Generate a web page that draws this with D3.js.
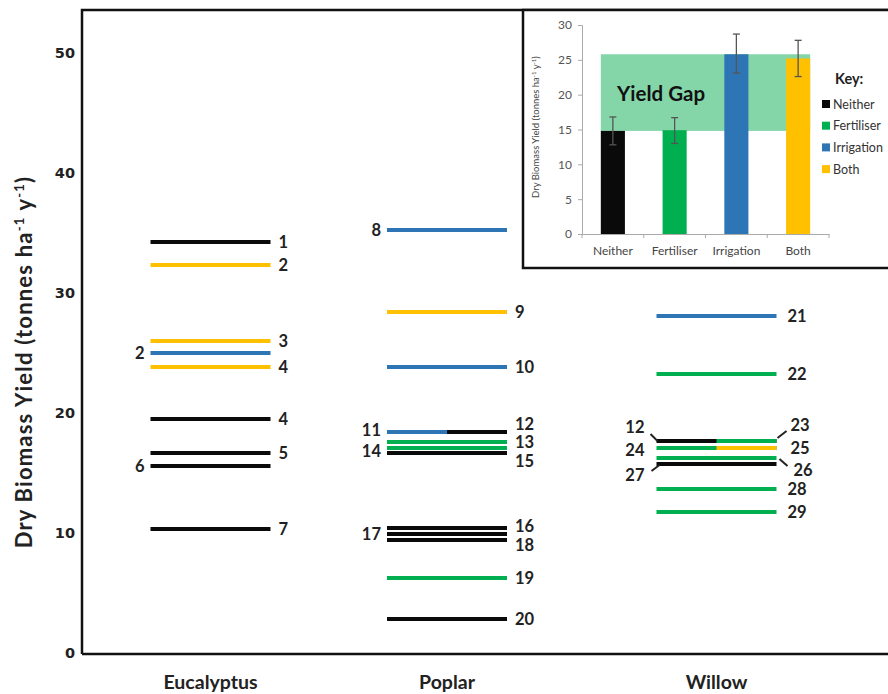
<!DOCTYPE html>
<html>
<head>
<meta charset="utf-8">
<script src="https://cdn.jsdelivr.net/npm/d3@7"></script>
<style>
  body { margin: 0; background: #fff; }
  svg { display: block; }
  text { font-family: Lato, 'Open Sans', sans-serif; }
</style>
</head>
<body>
<div id="chart"></div>
<script>
// ==============================
// data
// ==============================
const species = ['Eucalyptus', 'Poplar', 'Willow'];
const treatments = ['Neither', 'Fertiliser', 'Irrigation', 'Both'];

// each reported yield: value, treatment on left / right half, reference number left / right
const eucalyptusYield = [34.25, 32.33, 26.0, 25.0, 23.83, 19.5, 16.67, 15.58, 10.33];
const eucalyptusLeft = ['Neither', 'Both', 'Both', 'Irrigation', 'Both', 'Neither', 'Neither', 'Neither', 'Neither'];
const eucalyptusRight = eucalyptusLeft;
const eucalyptusRefL = ['', '', '', '2', '', '', '', '6', ''];
const eucalyptusRefR = ['1', '2', '3', '', '4', '4', '5', '', '7'];

const poplarYield = [35.25, 28.42, 23.83, 18.42, 17.58, 17.08, 16.67, 10.42, 9.92, 9.42, 6.25, 2.83];
const poplarLeft = ['Irrigation', 'Both', 'Irrigation', 'Irrigation', 'Fertiliser', 'Fertiliser', 'Neither', 'Neither', 'Neither', 'Neither', 'Fertiliser', 'Neither'];
const poplarRight = ['Irrigation', 'Both', 'Irrigation', 'Neither', 'Fertiliser', 'Fertiliser', 'Neither', 'Neither', 'Neither', 'Neither', 'Fertiliser', 'Neither'];
const poplarRefL = ['8', '', '', '11', '', '14', '', '', '17', '', '', ''];
const poplarRefR = ['', '9', '10', '12', '13', '', '15', '16', '', '18', '19', '20'];

const willowYield = [28.08, 23.25, 17.67, 17.08, 16.25, 15.75, 13.67, 11.75];
const willowLeft = ['Irrigation', 'Fertiliser', 'Neither', 'Fertiliser', 'Fertiliser', 'Neither', 'Fertiliser', 'Fertiliser'];
const willowRight = ['Irrigation', 'Fertiliser', 'Fertiliser', 'Both', 'Fertiliser', 'Neither', 'Fertiliser', 'Fertiliser'];
const willowRefL = ['', '', '12', '24', '', '27', '', ''];
const willowRefR = ['21', '22', '23', '25', '26', '', '28', '29'];

// inset: mean yield with error bars
const insetMean = [14.8, 14.9, 25.8, 25.2];
const insetLow = [12.8, 13.0, 23.1, 22.6];
const insetHigh = [16.8, 16.7, 28.7, 27.8];
const yTicks = [0, 10, 20, 30, 40, 50];
const insetTicks = [0, 5, 10, 15, 20, 25, 30];

// ==============================
// styles / layout
// ==============================
const colorOf = {
  Neither: '#0a0a0a',
  Fertiliser: '#00b050',
  Irrigation: '#2e75b6',
  Both: '#ffc000',
};

// label nudges for crowded lines: key = species|side|ref
const nudge = {
  'Poplar|L|11': { dy: -2 },
  'Poplar|L|14': { dy: 3 },
  'Poplar|R|12': { dy: -8 },
  'Poplar|R|15': { dy: 8 },
  'Poplar|R|16': { dy: -2 },
  'Poplar|R|18': { dy: 5 },
  'Willow|L|12': { dy: -14, dx: -6, leader: [-6, -7, 1, 0] },
  'Willow|R|23': { dy: -16, dx: 3, leader: [1, -3, 10, -10] },
  'Willow|L|24': { dy: 2, dx: -6 },
  'Willow|R|25': { dy: 0, dx: 3 },
  'Willow|R|26': { dy: 12, dx: 6, leader: [3, 1, 11, 8] },
  'Willow|L|27': { dy: 11, dx: -6, leader: [3, 1, -5, 7] },
};

function buildRows(name, vals, left, right, refL, refR) {
  return vals.map((v, i) => ({
    species: name,
    value: v,
    left: left[i],
    right: right[i],
    refL: refL[i],
    refR: refR[i],
  }));
}

const rows = [
  ...buildRows('Eucalyptus', eucalyptusYield, eucalyptusLeft, eucalyptusRight, eucalyptusRefL, eucalyptusRefR),
  ...buildRows('Poplar', poplarYield, poplarLeft, poplarRight, poplarRefL, poplarRefR),
  ...buildRows('Willow', willowYield, willowLeft, willowRight, willowRefL, willowRefR),
];

// ==============================
// main chart
// ==============================
const W = 888, H = 694;
const svg = d3.select('#chart').append('svg').attr('width', W).attr('height', H);
svg.append('rect').attr('width', W).attr('height', H).attr('fill', '#fff');

const y = d3.scaleLinear().domain([0, 50]).range([653, 53]);
const x = d3.scaleOrdinal().domain(species).range([210.5, 447, 716.5]);
const halfW = 60;

// frame
svg.append('path')
  .attr('d', `M82,654 V10 H892 M82,654 H892`)
  .attr('fill', 'none')
  .attr('stroke', '#111')
  .attr('stroke-width', 2.5);

// y axis labels
const yAxisG = svg.append('g')
  .attr('transform', 'translate(82,0)')
  .call(d3.axisLeft(y).tickValues(yTicks).tickSize(0).tickPadding(7));
yAxisG.select('.domain').remove();
yAxisG.selectAll('text')
  .style('font-family', "'DejaVu Sans', sans-serif")
  .style('font-weight', 'bold')
  .style('font-size', '14.5px')
  .attr('fill', '#222');

svg.append('text')
  .attr('transform', 'translate(32,362) rotate(-90)')
  .attr('text-anchor', 'middle')
  .attr('font-size', 22)
  .attr('font-weight', 'bold')
  .attr('letter-spacing', 1.2)
  .attr('fill', '#222')
  .call((t) => {
    t.append('tspan').text('Dry Biomass Yield (tonnes  ha');
    t.append('tspan').attr('font-size', 13).attr('dy', -8).text('-1');
    t.append('tspan').attr('dy', 8).text(' y');
    t.append('tspan').attr('font-size', 13).attr('dy', -8).text('-1');
    t.append('tspan').attr('dy', 8).text(')');
  });

// species labels
svg.selectAll('text.species')
  .data(species)
  .join('text')
  .attr('class', 'species')
  .attr('x', (d) => x(d))
  .attr('y', 689)
  .attr('text-anchor', 'middle')
  .attr('font-size', 19.5)
  .attr('font-weight', 'bold')
  .attr('fill', '#222')
  .text((d) => d);

// yield lines: full line in left colour, right half over it when it differs
svg.selectAll('line.yield')
  .data(rows)
  .join('line')
  .attr('class', 'yield')
  .attr('x1', (d) => x(d.species) - halfW)
  .attr('x2', (d) => x(d.species) + halfW)
  .attr('y1', (d) => y(d.value))
  .attr('y2', (d) => y(d.value))
  .attr('stroke', (d) => colorOf[d.left])
  .attr('stroke-width', 4);

svg.selectAll('line.split')
  .data(rows.filter((d) => d.left !== d.right))
  .join('line')
  .attr('class', 'split')
  .attr('x1', (d) => x(d.species))
  .attr('x2', (d) => x(d.species) + halfW)
  .attr('y1', (d) => y(d.value))
  .attr('y2', (d) => y(d.value))
  .attr('stroke', (d) => colorOf[d.right])
  .attr('stroke-width', 4);

// reference labels
const labels = rows.flatMap((d) => {
  const out = [];
  if (d.refL) out.push({ side: 'L', ref: d.refL, row: d });
  if (d.refR) out.push({ side: 'R', ref: d.refR, row: d });
  return out;
});

labels.forEach((l) => {
  const n = nudge[`${l.row.species}|${l.side}|${l.ref}`] || {};
  const ly = y(l.row.value);
  const edge = l.side === 'L' ? x(l.row.species) - halfW : x(l.row.species) + halfW;
  const gap = l.side === 'L' ? -6 : l.row.species === 'Willow' ? 11 : 8;
  svg.append('text')
    .attr('x', edge + gap + (n.dx || 0))
    .attr('y', ly + (n.dy || 0))
    .attr('dy', '0.36em')
    .attr('text-anchor', l.side === 'L' ? 'end' : 'start')
    .attr('font-size', 16.5)
    .attr('font-weight', 'bold')
    .attr('fill', '#222')
    .text(l.ref);
  if (n.leader) {
    const [a, b, c, e] = n.leader;
    svg.append('line')
      .attr('x1', edge + a).attr('y1', ly + b)
      .attr('x2', edge + c).attr('y2', ly + e)
      .attr('stroke', '#222')
      .attr('stroke-width', 2);
  }
});

// ==============================
// inset bar chart
// ==============================
const inset = svg.append('g');
inset.append('rect')
  .attr('x', 523).attr('y', 10)
  .attr('width', 380).attr('height', 258)
  .attr('fill', '#fff')
  .attr('stroke', '#111')
  .attr('stroke-width', 2.5);

const iy = d3.scaleLinear().domain([0, 30]).range([234, 25]);
const ix = d3.scaleBand().domain(treatments).range([582, 829]).paddingInner(0.61).paddingOuter(0.305);

// yield gap band
inset.append('rect')
  .attr('x', ix('Neither'))
  .attr('width', ix('Both') + ix.bandwidth() - ix('Neither'))
  .attr('y', iy(d3.max(insetMean)))
  .attr('height', iy(d3.min(insetMean)) - iy(d3.max(insetMean)))
  .attr('fill', '#84d6a9');

inset.append('text')
  .attr('x', 617).attr('y', 101)
  .attr('font-size', 20.5)
  .attr('font-weight', 'bold')
  .attr('fill', '#111')
  .text('Yield Gap');

// axes
const iyAxis = inset.append('g')
  .attr('transform', 'translate(582,0)')
  .call(d3.axisLeft(iy).tickValues(insetTicks).tickSize(4).tickPadding(6));
iyAxis.selectAll('path,line').attr('stroke', '#aaa');
iyAxis.selectAll('text').style('font-family', 'Lato, sans-serif').style('font-size', '12px').attr('fill', '#555');

const ixAxis = inset.append('g')
  .attr('transform', 'translate(0,234)')
  .call(d3.axisBottom(ix).tickSize(0).tickPadding(12));
ixAxis.select('.domain').attr('stroke', '#aaa');
ixAxis.selectAll('text').style('font-family', 'Lato, sans-serif').style('font-size', '12px').attr('fill', '#444');
ixAxis.selectAll('line.bound')
  .data(d3.range(treatments.length + 1))
  .join('line')
  .attr('class', 'bound')
  .attr('x1', (i) => ix.range()[0] + i * ix.step())
  .attr('x2', (i) => ix.range()[0] + i * ix.step())
  .attr('y1', 0).attr('y2', 4)
  .attr('stroke', '#aaa');

inset.append('text')
  .attr('transform', 'translate(539,127) rotate(-90)')
  .attr('text-anchor', 'middle')
  .attr('font-size', 9.5)
  .attr('fill', '#444')
  .call((t) => {
    t.append('tspan').text('Dry Biomass Yield (tonnes  ha');
    t.append('tspan').attr('font-size', 6).attr('dy', -3).text('-1');
    t.append('tspan').attr('dy', 3).text(' y');
    t.append('tspan').attr('font-size', 6).attr('dy', -3).text('-1');
    t.append('tspan').attr('dy', 3).text(')');
  });

// bars
inset.selectAll('rect.bar')
  .data(treatments)
  .join('rect')
  .attr('class', 'bar')
  .attr('x', (d) => ix(d))
  .attr('width', ix.bandwidth())
  .attr('y', (d, i) => iy(insetMean[i]))
  .attr('height', (d, i) => iy(0) - iy(insetMean[i]))
  .attr('fill', (d) => colorOf[d]);

// error bars
treatments.forEach((t, i) => {
  const cx = ix(t) + ix.bandwidth() / 2;
  const g = inset.append('g').attr('stroke', '#555').attr('stroke-width', 1.3);
  g.append('line').attr('x1', cx).attr('x2', cx).attr('y1', iy(insetLow[i])).attr('y2', iy(insetHigh[i]));
  g.append('line').attr('x1', cx - 3.5).attr('x2', cx + 3.5).attr('y1', iy(insetLow[i])).attr('y2', iy(insetLow[i]));
  g.append('line').attr('x1', cx - 3.5).attr('x2', cx + 3.5).attr('y1', iy(insetHigh[i])).attr('y2', iy(insetHigh[i]));
});

// key
inset.append('text')
  .attr('x', 835).attr('y', 84)
  .attr('font-size', 14.5)
  .attr('font-weight', 'bold')
  .attr('fill', '#222')
  .text('Key:');

const key = inset.selectAll('g.key')
  .data(treatments)
  .join('g')
  .attr('class', 'key')
  .attr('transform', (d, i) => `translate(822,${104 + i * 21.7})`);
key.append('rect')
  .attr('x', 0).attr('y', -4)
  .attr('width', 8).attr('height', 8)
  .attr('fill', (d) => colorOf[d]);
key.append('text')
  .attr('x', 11)
  .attr('dy', '0.36em')
  .attr('font-size', 12.5)
  .attr('fill', '#333')
  .text((d) => d);
</script>
</body>
</html>
